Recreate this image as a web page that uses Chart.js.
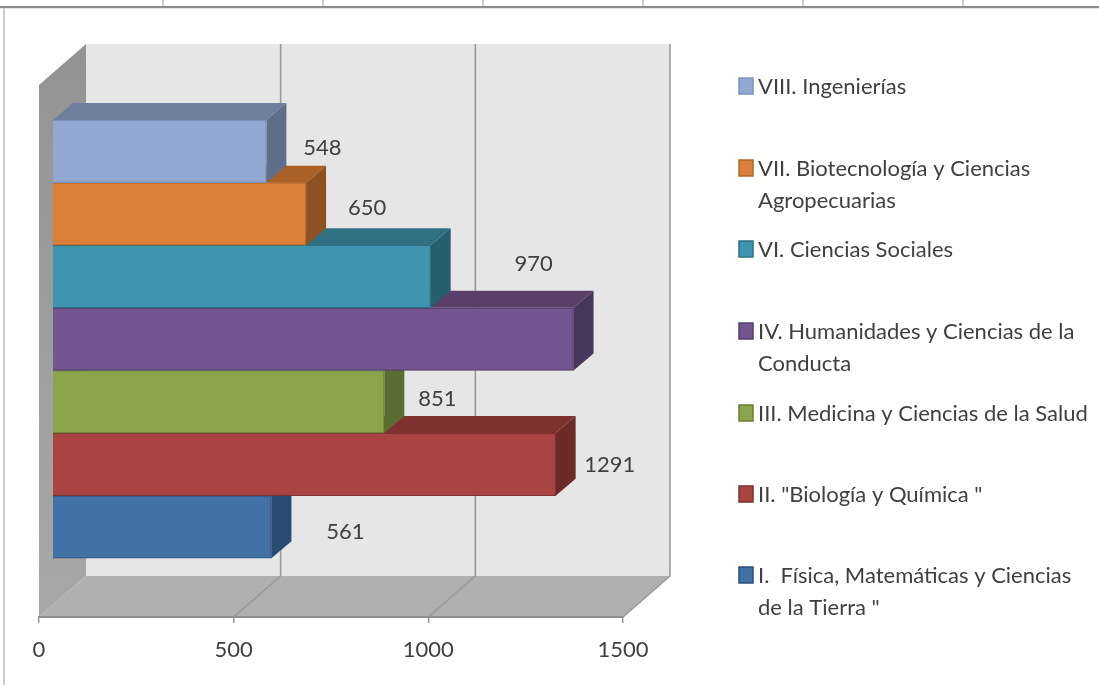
<!DOCTYPE html>
<html><head><meta charset="utf-8">
<style>
html,body{margin:0;padding:0;background:#fff;width:1099px;height:685px;overflow:hidden}
canvas{display:block;filter:blur(0.45px)}
</style>
<script src="https://cdn.jsdelivr.net/npm/chart.js@4"></script>
</head><body>
<div style="position:relative;width:1099px;height:685px"><canvas id="c" width="1099" height="685"></canvas></div>
<script>
const categories = ['I. Física','II. Biología y Química','III. Medicina','IV. Humanidades','VI. Ciencias Sociales','VII. Biotecnología','VIII. Ingenierías'];
const rowIndex = [0,1,2,3,4,5,6];
const values = [561,1291,851,1337,970,650,548];
const shownLabels = ['561','1291','851',null,'970','650','548'];
const tickValues = [0,500,1000,1500];
const legendLines = [
  ['VIII. Ingenierías'],
  ['VII. Biotecnología y Ciencias','Agropecuarias'],
  ['VI. Ciencias Sociales'],
  ['IV. Humanidades y Ciencias de la','Conducta'],
  ['III. Medicina y Ciencias de la Salud'],
  ['II. "Biología y Química "'],
  ['I.  Física, Matemáticas y Ciencias','de la Tierra "']
];
const legendColorIndex = [6,5,4,3,2,1,0];

const frontColors = ['#4271a6','#aa4443','#8aa54c','#735590','#3f95b0','#da8038','#92a8d1'];
const borderColors = ['#2c4f7c','#7f2f2e','#677d38','#553e6d','#2c7086','#b0652a','#7d93bb'];
const topColors = ['#325a86','#803231','#67803a','#5a4069','#2f7082','#aa6128','#6f7f9e'];
const sideColors = ['#2a4a70','#6c2a29','#5a6e32','#49365c','#275f70','#8e5222','#5f6e89'];

const labelOffsetX = [74,54,53,0,103,61,56];
const labelOffsetY = [4.5,0.5,-2.5,0,-12.5,-6.5,-3.5];
const legendRowY = [86,168,249,331,413,494,575];

const FONT = 'Lato, sans-serif';
const DEPTH_X = 20, DEPTH_Y = 17;     // bar depth
const WALL_X = 47, WALL_Y = 41;       // chart box depth

function poly(ctx, pts, fill, stroke, lw){
  ctx.beginPath();
  pts.forEach((p,i)=> i?ctx.lineTo(p[0],p[1]):ctx.moveTo(p[0],p[1]));
  ctx.closePath();
  if(fill){ctx.fillStyle=fill;ctx.fill();}
  if(stroke){ctx.strokeStyle=stroke;ctx.lineWidth=lw||1;ctx.stroke();}
}

const pagePlugin = {
  id:'page',
  beforeDraw(chart){
    const {ctx,chartArea:a,scales} = chart;
    const sx = scales.x;
    ctx.save();
    // sheet lines
    ctx.fillStyle='#fff';ctx.fillRect(0,0,1099,685);
    ctx.fillStyle='#cfcfcf';
    [162,322,482,642,802,962].forEach(x=>ctx.fillRect(x,0,2,6));
    ctx.fillStyle='#8c8c8c';ctx.fillRect(0,6,1099,2);
    ctx.fillStyle='#e4e4e4';ctx.fillRect(0,8,1099,1);
    ctx.fillStyle='#cccccc';ctx.fillRect(3,8,2,677);
    // back wall
    const L=a.left,R=a.right,T=a.top,B=a.bottom;
    poly(ctx,[[L+WALL_X,T-WALL_Y],[R+WALL_X,T-WALL_Y],[R+WALL_X,B-WALL_Y],[L+WALL_X,B-WALL_Y]],'#e6e6e6');
    // left wall
    const g=ctx.createLinearGradient(0,T-WALL_Y,0,B);
    g.addColorStop(0,'#939393');g.addColorStop(1,'#a8a8a8');
    poly(ctx,[[L,T],[L+WALL_X,T-WALL_Y],[L+WALL_X,B-WALL_Y],[L,B]],g);
    // floor
    poly(ctx,[[L,B],[L+WALL_X,B-WALL_Y],[R+WALL_X,B-WALL_Y],[R,B]],'#afafaf');
    // grid lines on floor and back wall
    ctx.strokeStyle='#9a9a9a';ctx.lineWidth=1.6;
    tickValues.forEach(v=>{
      const x=sx.getPixelForValue(v);
      if(v===0) return;
      ctx.beginPath();
      ctx.moveTo(x,B);ctx.lineTo(x+WALL_X,B-WALL_Y);ctx.lineTo(x+WALL_X,T-WALL_Y);
      ctx.stroke();
    });
    ctx.restore();
  },
  beforeDatasetsDraw(chart){
    const {ctx} = chart;
    const els = chart.getDatasetMeta(0).data;
    ctx.save();
    els.forEach((el,i)=>{
      const {x,y,base,height} = el.getProps(['x','y','base','height'],true);
      const t=y-height/2,b=y+height/2;
      poly(ctx,[[base,t],[base+DEPTH_X,t-DEPTH_Y],[x+DEPTH_X,t-DEPTH_Y],[x,t]],topColors[i]);
      poly(ctx,[[x,t],[x+DEPTH_X,t-DEPTH_Y],[x+DEPTH_X,b-DEPTH_Y],[x,b]],sideColors[i]);
    });
    ctx.restore();
  },
  afterDatasetsDraw(chart){
    const {ctx} = chart;
    const els = chart.getDatasetMeta(0).data;
    ctx.save();
    ctx.font='22px '+FONT;ctx.fillStyle='#404040';ctx.textAlign='center';ctx.textBaseline='middle';
    els.forEach((el,i)=>{
      if(shownLabels[i]===null) return;
      ctx.fillText(shownLabels[i],el.x+labelOffsetX[i],el.y+labelOffsetY[i]);
    });
    // legend
    ctx.textAlign='left';ctx.font='22px '+FONT;
    legendLines.forEach((lines,i)=>{
      const y=legendRowY[i],c=legendColorIndex[i];
      ctx.fillStyle=frontColors[c];ctx.strokeStyle=borderColors[c];ctx.lineWidth=1.5;
      ctx.beginPath();ctx.rect(739,y-8,14,16);ctx.fill();ctx.stroke();
      ctx.fillStyle='#404040';
      lines.forEach((s,k)=>ctx.fillText(s,758,y+0.5+k*32));
    });
    ctx.restore();
  }
};

new Chart(document.getElementById('c'),{
  type:'bar',
  plugins:[pagePlugin],
  data:{
    labels:categories,
    datasets:[{
      label:'Proyectos',
      data:values.map((v,i)=>({x:v,y:rowIndex[i]})),
      backgroundColor:frontColors,
      borderColor:borderColors,
      borderWidth:1.2,
      categoryPercentage:1,
      barPercentage:1,
      xAxisID:'xBar',
      yAxisID:'y'
    }]
  },
  options:{
    indexAxis:'y',
    responsive:false,
    animation:false,
    layout:{padding:{left:39,right:476,top:85,bottom:0}},
    plugins:{legend:{display:false},tooltip:{enabled:false},title:{display:false}},
    scales:{
      x:{
        type:'linear',position:'bottom',min:0,max:1500,
        afterFit(s){s.height=68;},
        afterBuildTicks(s){s.ticks=tickValues.map(v=>({value:v}));},
        grid:{drawOnChartArea:false,drawTicks:true,tickLength:6,color:'#9a9a9a',lineWidth:1.5},
        border:{color:'#8f8f8f',width:2},
        ticks:{color:'#404040',font:{family:'Lato',size:22},padding:14,maxRotation:0,autoSkip:false,callback:v=>String(v)}
      },
      xBar:{type:'linear',position:'bottom',min:-36,max:1464,display:false},
      y:{
        type:'linear',position:'left',min:-1.438,max:7.06,display:false,offset:false,
        afterBuildTicks(s){s.ticks=rowIndex.map(v=>({value:v}));}
      }
    }
  }
});
</script>
</body></html>
